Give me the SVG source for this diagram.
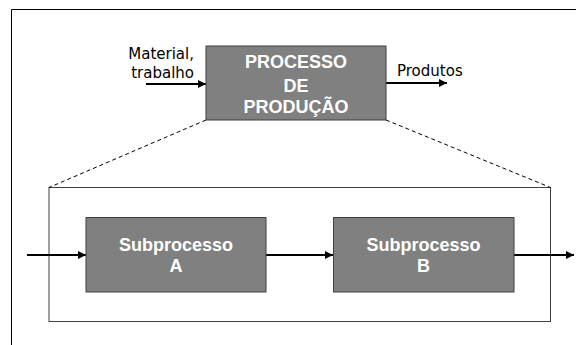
<svg xmlns="http://www.w3.org/2000/svg" width="576" height="345" viewBox="0 0 576 345">
<defs>
<style>
.box{fill:#808080;stroke:#404040;stroke-width:1}
.bt{font-family:"Liberation Sans",Arial,sans-serif;font-weight:bold;font-size:18px;fill:#ffffff;text-anchor:middle}
.lbl{font-family:"DejaVu Sans",Verdana,sans-serif;font-size:15px;fill:#000000}
.arr{stroke:#000;stroke-width:2;fill:none;marker-end:url(#ah)}
.dash{stroke:#000;stroke-width:1;stroke-dasharray:4 3;fill:none}
</style>
<marker id="ah" viewBox="0 0 8 8" refX="8" refY="4" markerWidth="8" markerHeight="8" markerUnits="userSpaceOnUse" orient="auto">
<path d="M0,0 L8,4 L0,8 Z" fill="#000"/>
</marker>
</defs>
<rect width="576" height="345" fill="#ffffff"/>
<path d="M11.5,345 V9.5 H576" fill="none" stroke="#000" stroke-width="1"/>
<g id="outer">
<rect x="49" y="187.5" width="501.5" height="134" fill="none" stroke="#404040" stroke-width="1"/>
</g>
<g id="connectors">
<line class="dash" x1="206" y1="120" x2="49" y2="187.5"/>
<line class="dash" x1="386" y1="120" x2="550.5" y2="187.5"/>
<line class="arr" x1="146" y1="84" x2="206" y2="84"/>
<line class="arr" x1="386" y1="83" x2="447" y2="83"/>
<line class="arr" x1="27" y1="255" x2="86" y2="255"/>
<line class="arr" x1="266" y1="255" x2="333" y2="255"/>
<line class="arr" x1="514" y1="255" x2="574" y2="255"/>
</g>
<g id="labels">
<text class="lbl" x="194" y="59" text-anchor="end">Material,</text>
<text class="lbl" x="194" y="77.5" text-anchor="end">trabalho</text>
<text class="lbl" x="397" y="76">Produtos</text>
</g>
<g id="main">
<rect class="box" x="206" y="46" width="180" height="74"/>
<text class="bt" x="296" y="68">PROCESSO</text>
<text class="bt" x="296" y="92">DE</text>
<text class="bt" x="296" y="112.5">PRODUÇÃO</text>
</g>
<g id="subA">
<rect class="box" x="86" y="217.5" width="180" height="74.5"/>
<text class="bt" x="176" y="250.5">Subprocesso</text>
<text class="bt" x="176" y="272">A</text>
</g>
<g id="subB">
<rect class="box" x="333.5" y="217.5" width="180.5" height="74.5"/>
<text class="bt" x="423.5" y="250.5">Subprocesso</text>
<text class="bt" x="423.5" y="272">B</text>
</g>
</svg>
